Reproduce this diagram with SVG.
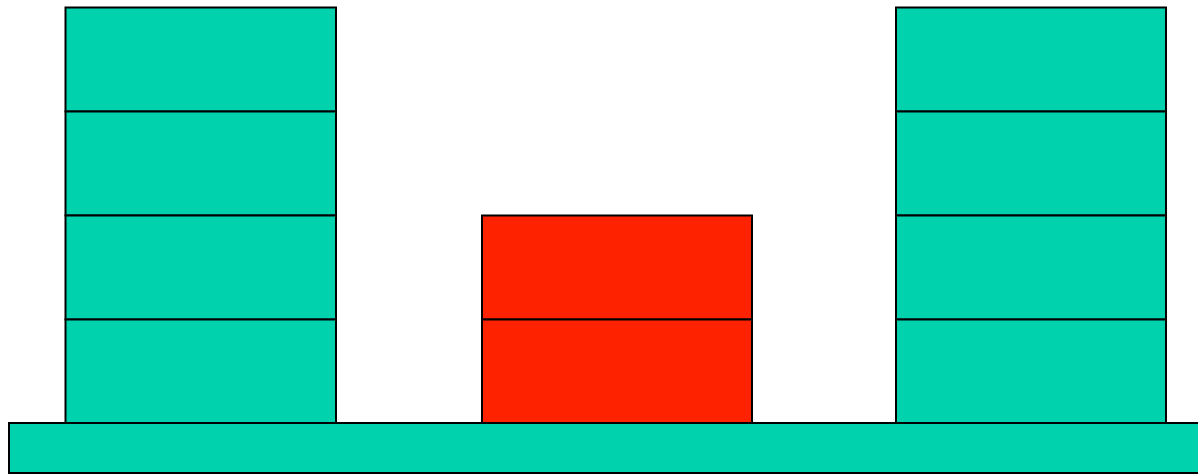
<svg xmlns="http://www.w3.org/2000/svg" width="1198" height="474" viewBox="0 0 1198 474">
<style>
.t{fill:#00D2AE;stroke:#000;stroke-width:2}
.r{fill:#FF2200;stroke:#000;stroke-width:2}
</style>
<rect width="1198" height="474" fill="#fff"/>
<g id="base"><rect class="t" x="9" y="423" width="1200" height="50"/></g>
<g id="left-stack">
<rect class="t" x="65.5" y="7.5" width="270.5" height="104"/>
<rect class="t" x="65.5" y="111.5" width="270.5" height="104"/>
<rect class="t" x="65.5" y="215.5" width="270.5" height="104"/>
<rect class="t" x="65.5" y="319.5" width="270.5" height="103.5"/>
</g>
<g id="middle-stack">
<rect class="r" x="482" y="215.5" width="270" height="104"/>
<rect class="r" x="482" y="319.5" width="270" height="103.5"/>
</g>
<g id="right-stack">
<rect class="t" x="896" y="7.5" width="270" height="104"/>
<rect class="t" x="896" y="111.5" width="270" height="104"/>
<rect class="t" x="896" y="215.5" width="270" height="104"/>
<rect class="t" x="896" y="319.5" width="270" height="103.5"/>
</g>
<g id="connectors"/>
</svg>
